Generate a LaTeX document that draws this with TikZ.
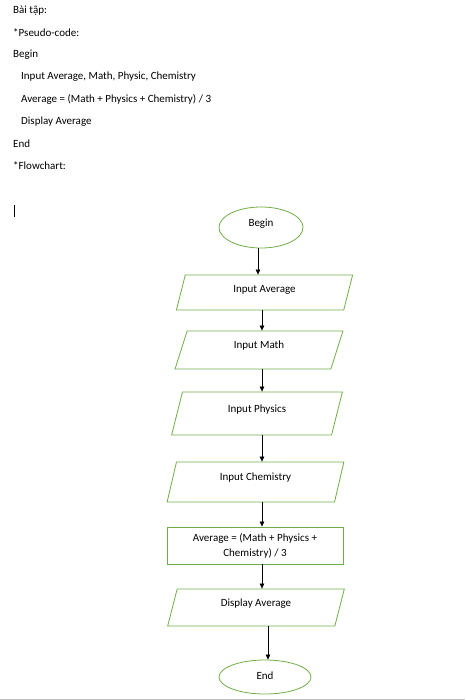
\documentclass[tikz,border=0pt]{standalone}
\usepackage{fontspec}
\setmainfont{Carlito}
\usepackage{xcolor}
\usepackage{tikz}
\usetikzlibrary{positioning, arrows.meta, shapes.geometric}

\definecolor{flowgreen}{RGB}{112,173,71}

\begin{document}
\begin{tikzpicture}[
    x=1pt, y=-1pt,
    txt/.style={anchor=west, inner sep=0pt, font=\fontsize{11}{13}\selectfont},
    term/.style={draw=flowgreen, line width=0.8pt, ellipse, inner sep=0pt, text height=7pt, text depth=8pt,
        font=\fontsize{11}{13}\selectfont},
    io/.style={draw=flowgreen, line width=0.8pt, trapezium, trapezium left angle=76, trapezium right angle=104,
        trapezium stretches=true, inner sep=0pt, text height=7pt, text depth=10pt, font=\fontsize{11}{13}\selectfont},
    proc/.style={draw=flowgreen, line width=0.8pt, rectangle, inner sep=0pt, align=center, font=\fontsize{11}{15}\selectfont},
    arr/.style={line width=0.7pt, -{Triangle[length=5pt, width=4.5pt]}}
]
\useasboundingbox (0,0) rectangle (465,700);

% pseudo-code text
\node[txt] (title) at (13,11) {Bài tập:};
\node[txt] (pseudo) at (13,33) {*Pseudo-code:};
\node[txt] (pbegin) at (13,55) {Begin};
\node[txt] (pinput) at (21,77) {Input Average, Math, Physic, Chemistry};
\node[txt] (pcalc) at (21,99) {Average = (Math + Physics + Chemistry) / 3};
\node[txt] (pdisp) at (21,122) {Display Average};
\node[txt] (pend) at (13,144) {End};
\node[txt] (flow) at (13,166) {*Flowchart:};
\draw[line width=0.8pt] (14,205) -- (14,217);

% flowchart
\node[term, minimum width=84pt, minimum height=41pt] (begin) at (261,227.5) {Begin};
\node[io, minimum width=177pt, minimum height=35pt, text depth=7pt] (avg) at (264.5,292.5) {Input Average};
\node[io, minimum width=168pt, minimum height=38pt] (math) at (259,350) {Input Math};
\node[io, minimum width=172pt, minimum height=43pt] (phys) at (257,413.5) {Input Physics};
\node[io, minimum width=177pt, minimum height=40pt] (chem) at (255.5,482) {Input Chemistry};
\node[proc, minimum width=176pt, minimum height=37pt] (calc) at (255,545.5) {Average = (Math + Physics +\\Chemistry) / 3};
\node[io, minimum width=178pt, minimum height=37pt] (disp) at (256,607.5) {Display Average};
\node[term, minimum width=92pt, minimum height=34pt, text depth=3pt] (end) at (265,677) {End};

\coordinate (axis) at (262,0);
\draw[arr] ([xshift=-3pt]begin.south) -- ([xshift=-3pt]begin.south |- avg.north);
\draw[arr] (axis |- avg.south) -- (axis |- math.north);
\draw[arr] (axis |- math.south) -- (axis |- phys.north);
\draw[arr] (axis |- phys.south) -- (axis |- chem.north);
\draw[arr] (axis |- chem.south) -- (axis |- calc.north);
\draw[arr] (axis |- calc.south) -- (axis |- disp.north);
\draw[arr] ([xshift=3pt]end.north |- disp.south) -- ([xshift=3pt]end.north);

\draw[color=black!25, line width=1pt] (0,699) -- (465,699);
\end{tikzpicture}
\end{document}
